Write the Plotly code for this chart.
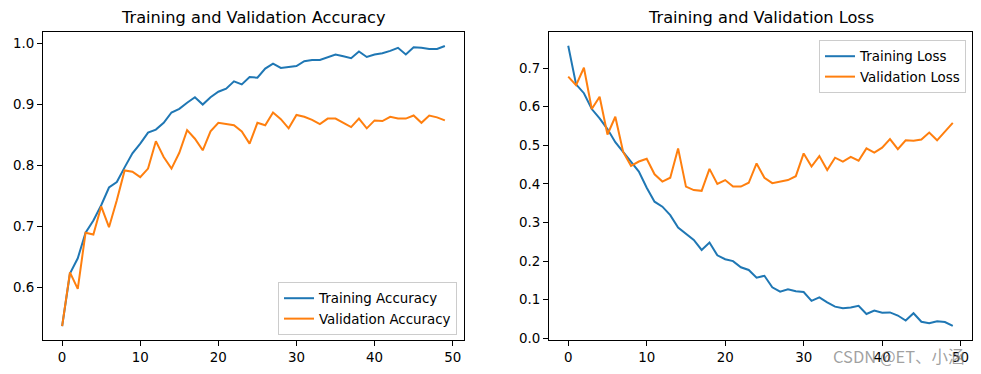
import plotly.graph_objects as go

epochs = list(range(50))

train_acc = [0.537, 0.623, 0.648, 0.690, 0.710, 0.735, 0.764, 0.773, 0.797, 0.820,
             0.836, 0.854, 0.859, 0.870, 0.887, 0.893, 0.903, 0.912, 0.900, 0.912,
             0.921, 0.926, 0.938, 0.933, 0.945, 0.944, 0.959, 0.967, 0.960, 0.961,
             0.963, 0.971, 0.973, 0.973, 0.978, 0.982, 0.979, 0.976, 0.987, 0.978,
             0.982, 0.984, 0.988, 0.993, 0.982, 0.994, 0.993, 0.991, 0.991, 0.996]
val_acc = [0.537, 0.625, 0.598, 0.690, 0.687, 0.733, 0.699, 0.743, 0.792, 0.790,
           0.781, 0.795, 0.840, 0.814, 0.795, 0.821, 0.858, 0.844, 0.825, 0.856,
           0.870, 0.868, 0.866, 0.856, 0.836, 0.870, 0.866, 0.887, 0.876, 0.861,
           0.883, 0.880, 0.875, 0.868, 0.877, 0.877, 0.870, 0.863, 0.877, 0.861,
           0.874, 0.873, 0.880, 0.877, 0.877, 0.882, 0.870, 0.882, 0.879, 0.874]

train_loss = [0.758, 0.658, 0.635, 0.594, 0.570, 0.542, 0.508, 0.483, 0.458, 0.432,
              0.390, 0.354, 0.341, 0.319, 0.287, 0.270, 0.255, 0.229, 0.248, 0.215,
              0.205, 0.200, 0.184, 0.177, 0.157, 0.162, 0.132, 0.121, 0.127, 0.122,
              0.120, 0.097, 0.106, 0.093, 0.082, 0.078, 0.080, 0.084, 0.063, 0.072,
              0.066, 0.067, 0.059, 0.046, 0.065, 0.043, 0.039, 0.044, 0.042, 0.032]
val_loss = [0.678, 0.656, 0.701, 0.594, 0.626, 0.528, 0.574, 0.483, 0.447, 0.458,
            0.465, 0.425, 0.406, 0.416, 0.492, 0.393, 0.384, 0.382, 0.439, 0.400,
            0.410, 0.393, 0.393, 0.403, 0.453, 0.416, 0.402, 0.406, 0.410, 0.420,
            0.479, 0.445, 0.472, 0.436, 0.468, 0.458, 0.470, 0.460, 0.492, 0.481,
            0.494, 0.516, 0.490, 0.513, 0.512, 0.515, 0.533, 0.513, 0.535, 0.558]

x_ticks = [0, 10, 20, 30, 40, 50]
acc_ticks = [0.6, 0.7, 0.8, 0.9, 1.0]
loss_ticks = [0.0, 0.1, 0.2, 0.3, 0.4, 0.5, 0.6, 0.7]

BLUE = "#1f77b4"
ORANGE = "#ff7f0e"
FONT = "DejaVu Sans"
W, H = 981, 374
TICK_SIZE = 13.4
TITLE_SIZE = 16.2
LEGEND_SIZE = 13.4

fig = go.Figure()
fig.add_trace(go.Scatter(x=epochs, y=train_acc, mode="lines", name="Training Accuracy",
                         line=dict(color=BLUE, width=2), xaxis="x", yaxis="y", legend="legend"))
fig.add_trace(go.Scatter(x=epochs, y=val_acc, mode="lines", name="Validation Accuracy",
                         line=dict(color=ORANGE, width=2), xaxis="x", yaxis="y", legend="legend"))
fig.add_trace(go.Scatter(x=epochs, y=train_loss, mode="lines", name="Training Loss",
                         line=dict(color=BLUE, width=2), xaxis="x2", yaxis="y2", legend="legend2"))
fig.add_trace(go.Scatter(x=epochs, y=val_loss, mode="lines", name="Validation Loss",
                         line=dict(color=ORANGE, width=2), xaxis="x2", yaxis="y2", legend="legend2"))

y0 = 1 - 340 / H
y1 = 1 - 32 / H
axis_common = dict(showline=True, linecolor="black", linewidth=1.1, mirror=True,
                   ticks="outside", ticklen=5, tickwidth=1.1, tickcolor="black", showgrid=False,
                   zeroline=False, automargin=False,
                   tickfont=dict(family=FONT, size=TICK_SIZE, color="black"))

legend_common = dict(bgcolor="rgba(255,255,255,0.8)", bordercolor="#cccccc", borderwidth=1,
                     font=dict(family=FONT, size=LEGEND_SIZE, color="black"), tracegroupgap=0)

fig.update_layout(
    width=W, height=H,
    margin=dict(l=0, r=0, t=0, b=0),
    paper_bgcolor="white", plot_bgcolor="white",
    font=dict(family=FONT, color="black"),
    xaxis=dict(domain=[43 / W, 464 / W], range=[-2.45, 51.45], tickvals=x_ticks,
               anchor="y", **axis_common),
    yaxis=dict(domain=[y0, y1], range=[0.5141, 1.0189], tickvals=acc_ticks,
               tickformat=".1f", anchor="x", **axis_common),
    xaxis2=dict(domain=[549 / W, 972 / W], range=[-2.45, 51.45], tickvals=x_ticks,
                anchor="y2", **axis_common),
    yaxis2=dict(domain=[y0, y1], range=[-0.0044, 0.7936], tickvals=loss_ticks,
                tickformat=".1f", anchor="x2", **axis_common),
    legend=dict(x=457 / W, y=1 - 335 / H, xanchor="right", yanchor="bottom", **legend_common),
    legend2=dict(x=966 / W, y=1 - 40 / H, xanchor="right", yanchor="top", **legend_common),
    showlegend=True,
    annotations=[
        dict(text="Training and Validation Accuracy", x=(43 + 464) / 2 / W, y=1 - 18 / H,
             xref="paper", yref="paper", showarrow=False, xanchor="center", yanchor="middle",
             font=dict(family=FONT, size=TITLE_SIZE, color="black")),
        dict(text="Training and Validation Loss", x=(549 + 972) / 2 / W, y=1 - 18 / H,
             xref="paper", yref="paper", showarrow=False, xanchor="center", yanchor="middle",
             font=dict(family=FONT, size=TITLE_SIZE, color="black")),
        dict(text="CSDN @ET、小涵", x=967 / W, y=1 - 356 / H,
             xref="paper", yref="paper", showarrow=False, xanchor="right", yanchor="middle",
             font=dict(family="Noto Sans CJK SC", size=16.5, color="rgba(130,130,130,0.75)")),
    ],
)

fig.write_html("out.html", config={"displayModeBar": False},
               post_script="document.body.style.margin='0';")
